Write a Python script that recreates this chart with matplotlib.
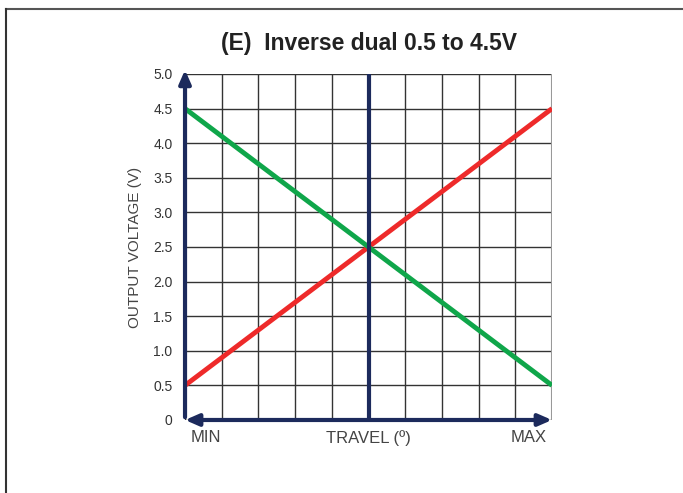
import matplotlib.pyplot as plt
from matplotlib.lines import Line2D

plt.rcParams['font.family'] = ['Liberation Sans', 'DejaVu Sans']

# travel in percent of full stroke, output in volts
travel = [0, 100]
out_rising = [0.5, 4.5]
out_falling = [4.5, 0.5]
y_ticks = [0, 0.5, 1.0, 1.5, 2.0, 2.5, 3.0, 3.5, 4.0, 4.5, 5.0]
y_labels = ['0', '0.5', '1.0', '1.5', '2.0', '2.5', '3.0', '3.5', '4.0', '4.5', '5.0']
x_grid = [0, 10, 20, 30, 40, 50, 60, 70, 80, 90, 100]

navy = '#1c2a5c'

fig = plt.figure(figsize=(6.83, 4.93), dpi=100)
ax = fig.add_axes([0.2709, 0.1481, 0.5373, 0.7018])
ax.set_xlim(0, 100)
ax.set_ylim(0, 5)

ax.set_xticks(x_grid)
ax.set_xticklabels([])
ax.set_yticks(y_ticks)
ax.set_yticklabels(y_labels, fontsize=10, color='#333333')
ax.tick_params(length=0, pad=9)
ax.grid(True, color='#333333', lw=1)
for s in ax.spines.values():
    s.set_visible(False)
ax.axvline(100, color='#999999', lw=1.5)

ax.plot(travel, out_rising, color='#ee2a2a', lw=3.5, solid_capstyle='butt', zorder=4)
ax.plot(travel, out_falling, color='#0fa64a', lw=3.5, solid_capstyle='butt', zorder=4)

ax.axvline(50, color=navy, lw=3, zorder=5)
ax.annotate('', xy=(0, 5.1), xytext=(0, 0), xycoords='data',
            arrowprops=dict(arrowstyle='-|>,head_length=0.8,head_width=0.35', color=navy, lw=3),
            annotation_clip=False, zorder=6)
ax.annotate('', xy=(100, 0), xytext=(0, 0),
            arrowprops=dict(arrowstyle='<|-|>,head_length=0.8,head_width=0.35', color=navy, lw=3,
                            shrinkA=0, shrinkB=0),
            annotation_clip=False, zorder=6)

ax.text(1.5, -0.15, 'MIN', ha='left', va='top', fontsize=12, color='#444444')
ax.text(50, -0.15, 'TRAVEL (º)', ha='center', va='top', fontsize=12, color='#444444')
ax.text(98.5, -0.15, 'MAX', ha='right', va='top', fontsize=12, color='#444444')
ax.set_ylabel('OUTPUT VOLTAGE (V)', fontsize=11, color='#444444', labelpad=8)

fig.text(0.54, 0.912, '(E)  Inverse dual 0.5 to 4.5V', ha='center', va='center',
         fontsize=16.5, fontweight='bold', color='#222222')

# frame lines at top and left of the image
fig.add_artist(Line2D([6 / 683, 1], [1 - 9 / 493, 1 - 9 / 493], color='#555555', lw=1.5))
fig.add_artist(Line2D([6 / 683, 6 / 683], [0, 1 - 9 / 493], color='#333333', lw=1.5))

fig.savefig('out.png', dpi=100)
